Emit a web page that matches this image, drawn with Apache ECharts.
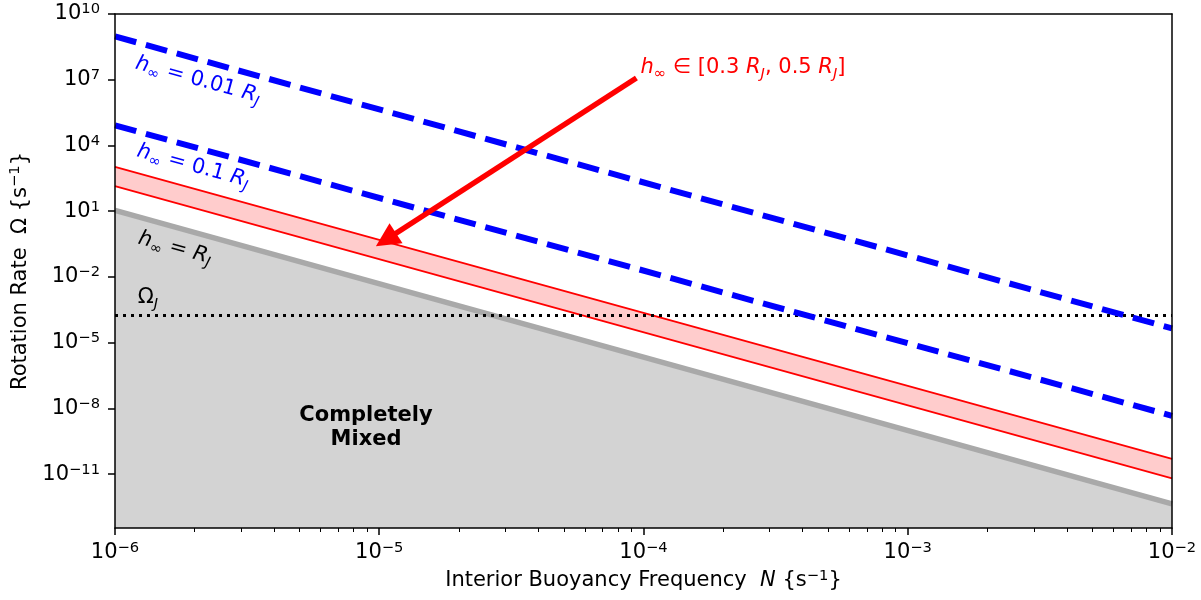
<!DOCTYPE html>
<html>
<head>
<meta charset="utf-8">
<title>Rotation rate vs interior buoyancy frequency</title>
<script src="https://cdn.jsdelivr.net/npm/echarts@6.0.0/dist/echarts.min.js"></script>
<style>
html, body { margin: 0; padding: 0; background: #fff; }
#main { width: 1201px; height: 600px; }
</style>
</head>
<body>
<div id="main"></div>
<script>
// N values at the two ends of every straight line (s^-1)
var nEnds = [1e-6, 1e-2];
// Omega at those two ends, one array per h_inf
var omegaH001 = [9.5e8, 4.5e-5];
var omegaH01 = [8.3e4, 4.6e-9];
var omegaH03 = [1.05e3, 5.0e-11];
var omegaH05 = [1.4e2, 6.5e-12];
var omegaHRJ = [11, 4.4e-13];
// Jupiter rotation rate
var omegaJ = [1.76e-4, 1.76e-4];
// arrow tail and head centre (N, Omega)
var arrowFrom = [9.4e-5, 1.2e7];
var arrowTo = [1.06e-5, 0.5];
// ticks
var xTicks = [1e-6, 1e-5, 1e-4, 1e-3, 1e-2];
var xDecades = [1e-6, 1e-5, 1e-4, 1e-3];
var xMinorSteps = [2, 3, 4, 5, 6, 7, 8, 9];
var yTicks = [1e-11, 1e-8, 1e-5, 1e-2, 1e1, 1e4, 1e7, 1e10];
var yMin = 3.5e-14, yMax = 1e10;

var FONT = 'DejaVu Sans';
var FS = 21, FSS = 14.7;

var xMinorTicks = [];
xDecades.forEach(function (d) {
	xMinorSteps.forEach(function (m) { xMinorTicks.push(d * m); });
});

function pts(arr) {
	return [[nEnds[0], arr[0]], [nEnds[1], arr[1]]];
}

function powLabel(v) {
	var e = Math.round(Math.log10(v));
	return '{b|10}{s|' + String(e).replace('-', '\u2212') + '}';
}

var powRich = {
	b: { fontSize: FS, lineHeight: 24, color: '#000', fontFamily: FONT },
	s: { fontSize: FSS, lineHeight: 14, verticalAlign: 'top', color: '#000', fontFamily: FONT }
};

var nameRich = {
	n: { fontSize: FS, lineHeight: 25, color: '#000', fontFamily: FONT },
	i: { fontSize: FS, lineHeight: 25, fontStyle: 'italic', color: '#000', fontFamily: FONT },
	s: { fontSize: FSS, lineHeight: 14, verticalAlign: 'top', color: '#000', fontFamily: FONT }
};

// rich styles for the h_inf labels
function labelRich(color) {
	return {
		n: { fontSize: FS, lineHeight: 27, fill: color, fontFamily: FONT },
		i: { fontSize: FS, lineHeight: 27, fontStyle: 'italic', fill: color, fontFamily: FONT },
		sb: { fontSize: FSS, lineHeight: 14, verticalAlign: 'bottom', fill: color, fontFamily: FONT },
		sbi: { fontSize: FSS, lineHeight: 14, verticalAlign: 'bottom', fontStyle: 'italic', fill: color, fontFamily: FONT }
	};
}

var SLOPE = -15.4 * Math.PI / 180;

var chart = echarts.init(document.getElementById('main'));

var option = {
	animation: false,
	backgroundColor: '#fff',
	grid: {
		left: 115, right: 29, top: 14, bottom: 72,
		containLabel: false,
		outerBoundsMode: 'none'
	},
	xAxis: [
		{
			type: 'log', min: 1e-6, max: 1e-2, z: 10,
			name: 'Interior Buoyancy Frequency  {i|N} {n|\u007bs}{s|\u22121}{n|\u007d}',
			nameLocation: 'middle', nameGap: 40,
			nameTextStyle: { rich: nameRich, fontSize: FS, fontFamily: FONT, color: '#000' },
			axisLine: { show: true, onZero: false, lineStyle: { color: '#000', width: 1.5 } },
			axisTick: { show: true, customValues: xTicks, length: 7, lineStyle: { color: '#000', width: 1.5 } },
			axisLabel: { customValues: xTicks, formatter: powLabel, rich: powRich, margin: 13 },
			splitLine: { show: false }
		},
		{
			// minor ticks
			type: 'log', min: 1e-6, max: 1e-2, position: 'bottom', z: 10,
			axisLine: { show: false },
			axisTick: { show: true, customValues: xMinorTicks, length: 4, lineStyle: { color: '#000', width: 1 } },
			axisLabel: { show: false },
			splitLine: { show: false }
		},
		{
			// top frame
			type: 'log', min: 1e-6, max: 1e-2, position: 'top', z: 10,
			axisLine: { show: true, onZero: false, lineStyle: { color: '#000', width: 1.5 } },
			axisTick: { show: false }, axisLabel: { show: false }, splitLine: { show: false }
		}
	],
	yAxis: [
		{
			type: 'log', min: yMin, max: yMax, z: 10,
			name: 'Rotation Rate  \u03a9 {n|\u007bs}{s|\u22121}{n|\u007d}',
			nameLocation: 'middle', nameGap: 82, nameRotate: 90,
			nameTextStyle: { rich: nameRich, fontSize: FS, fontFamily: FONT, color: '#000' },
			axisLine: { show: true, onZero: false, lineStyle: { color: '#000', width: 1.5 } },
			axisTick: { show: true, customValues: yTicks, length: 7, lineStyle: { color: '#000', width: 1.5 } },
			axisLabel: { customValues: yTicks, formatter: powLabel, rich: powRich, margin: 15 },
			splitLine: { show: false }
		},
		{
			// right frame
			type: 'log', min: yMin, max: yMax, position: 'right', z: 10,
			axisLine: { show: true, onZero: false, lineStyle: { color: '#000', width: 1.5 } },
			axisTick: { show: false }, axisLabel: { show: false }, splitLine: { show: false }
		}
	],
	series: [
		{
			// band between 0.3 R_J and 0.5 R_J
			name: 'h03', type: 'line', symbol: 'none', data: pts(omegaH03),
			lineStyle: { color: '#ff0000', width: 1.8 },
			areaStyle: { color: '#ffcccc', origin: 'start', opacity: 1 }
		},
		{
			name: 'h05', type: 'line', symbol: 'none', data: pts(omegaH05),
			lineStyle: { color: '#ff0000', width: 1.8 },
			areaStyle: { color: '#ffffff', origin: 'start', opacity: 1 }
		},
		{
			// completely mixed region
			name: 'hRJ', type: 'line', symbol: 'none', data: pts(omegaHRJ),
			lineStyle: { color: '#a9a9a9', width: 5.5 },
			areaStyle: { color: '#d3d3d3', origin: 'start', opacity: 1 }
		},
		{
			name: 'omegaJ', type: 'line', symbol: 'none',
			data: [[nEnds[0], omegaJ[0]], [nEnds[1], omegaJ[1]]],
			lineStyle: { color: '#000', width: 3, type: [3, 5], cap: 'butt' }
		},
		{
			name: 'h001', type: 'line', symbol: 'none', data: pts(omegaH001),
			lineStyle: { color: '#0000ff', width: 6, type: [22, 10], cap: 'butt' }
		},
		{
			name: 'h01', type: 'line', symbol: 'none', data: pts(omegaH01),
			lineStyle: { color: '#0000ff', width: 6, type: [22, 10], cap: 'butt' }
		},
		{
			name: 'arrow', type: 'lines', coordinateSystem: 'cartesian2d', z: 5,
			symbol: ['none', 'triangle'], symbolSize: [0, 24],
			lineStyle: { color: '#ff0000', width: 5.5, opacity: 1, curveness: 0 },
			data: [{ coords: [arrowFrom, arrowTo] }]
		}
	],
	graphic: [
		{
			type: 'text', x: 198, y: 80, rotation: SLOPE, z: 20,
			style: {
				text: '{i|h}{sb|\u221e}{n| = 0.01 }{i|R}{sbi|J}',
				rich: labelRich('#0000ff'), align: 'center', verticalAlign: 'middle'
			}
		},
		{
			type: 'text', x: 193, y: 166, rotation: SLOPE, z: 20,
			style: {
				text: '{i|h}{sb|\u221e}{n| = 0.1 }{i|R}{sbi|J}',
				rich: labelRich('#0000ff'), align: 'center', verticalAlign: 'middle'
			}
		},
		{
			type: 'text', x: 175, y: 248, rotation: SLOPE, z: 20,
			style: {
				text: '{i|h}{sb|\u221e}{n| = }{i|R}{sbi|J}',
				rich: labelRich('#000000'), align: 'center', verticalAlign: 'middle'
			}
		},
		{
			type: 'text', x: 148, y: 298, z: 20,
			style: {
				text: '{n|\u03a9}{sbi|J}',
				rich: labelRich('#000000'), align: 'center', verticalAlign: 'middle'
			}
		},
		{
			type: 'text', x: 743, y: 68, z: 20,
			style: {
				text: '{i|h}{sb|\u221e}{n| \u2208 [0.3 }{i|R}{sbi|J}{n|, 0.5 }{i|R}{sbi|J}{n|]}',
				rich: labelRich('#ff0000'), align: 'center', verticalAlign: 'middle'
			}
		},
		{
			type: 'text', x: 366, y: 428, z: 20,
			style: {
				text: 'Completely\nMixed', fill: '#000',
				font: 'bold 21px "DejaVu Sans"', lineHeight: 24,
				align: 'center', verticalAlign: 'middle'
			}
		}
	]
};

chart.setOption(option);
window.onresize = function () {
	chart.resize();
};
</script>
</body>
</html>
